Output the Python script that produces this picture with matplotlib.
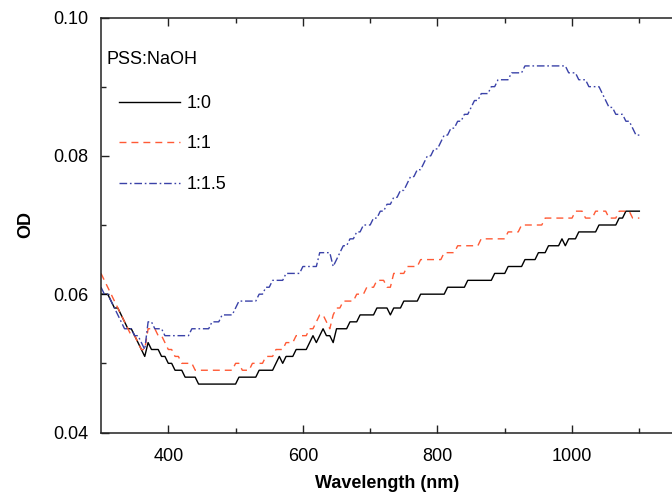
import numpy as np
import matplotlib
matplotlib.use("Agg")
import matplotlib.pyplot as plt

plt.rcParams["font.family"] = ["Liberation Sans", "DejaVu Sans"]

# sampling grid of the spectra (nm)
wavelength = np.arange(300, 1101, 5)

# PSS:NaOH 1:0
od_1_0 = [
    0.060, 0.060, 0.060, 0.059, 0.058, 0.058, 0.057, 0.056, 0.055, 0.055,
    0.054, 0.053, 0.052, 0.051, 0.053, 0.052, 0.052, 0.052, 0.051, 0.051,
    0.050, 0.050, 0.049, 0.049, 0.049, 0.048, 0.048, 0.048, 0.048, 0.047,
    0.047, 0.047, 0.047, 0.047, 0.047, 0.047, 0.047, 0.047, 0.047, 0.047,
    0.047, 0.048, 0.048, 0.048, 0.048, 0.048, 0.048, 0.049, 0.049, 0.049,
    0.049, 0.049, 0.050, 0.051, 0.050, 0.051, 0.051, 0.051, 0.052, 0.052,
    0.052, 0.052, 0.053, 0.054, 0.053, 0.054, 0.055, 0.054, 0.054, 0.053,
    0.055, 0.055, 0.055, 0.055, 0.056, 0.056, 0.056, 0.057, 0.057, 0.057,
    0.057, 0.057, 0.058, 0.058, 0.058, 0.058, 0.057, 0.058, 0.058, 0.058,
    0.059, 0.059, 0.059, 0.059, 0.059, 0.060, 0.060, 0.060, 0.060, 0.060,
    0.060, 0.060, 0.060, 0.061, 0.061, 0.061, 0.061, 0.061, 0.061, 0.062,
    0.062, 0.062, 0.062, 0.062, 0.062, 0.062, 0.062, 0.063, 0.063, 0.063,
    0.063, 0.064, 0.064, 0.064, 0.064, 0.064, 0.065, 0.065, 0.065, 0.065,
    0.066, 0.066, 0.066, 0.067, 0.067, 0.067, 0.067, 0.068, 0.067, 0.068,
    0.068, 0.068, 0.069, 0.069, 0.069, 0.069, 0.069, 0.069, 0.070, 0.070,
    0.070, 0.070, 0.070, 0.070, 0.071, 0.071, 0.072, 0.072, 0.072, 0.072,
    0.072,
]

# PSS:NaOH 1:1
od_1_1 = [
    0.063, 0.062, 0.061, 0.060, 0.059, 0.058, 0.057, 0.056, 0.055, 0.054,
    0.054, 0.053, 0.052, 0.052, 0.055, 0.055, 0.055, 0.054, 0.054, 0.053,
    0.052, 0.052, 0.051, 0.051, 0.050, 0.050, 0.050, 0.050, 0.049, 0.049,
    0.049, 0.049, 0.049, 0.049, 0.049, 0.049, 0.049, 0.049, 0.049, 0.049,
    0.050, 0.050, 0.049, 0.049, 0.049, 0.050, 0.050, 0.050, 0.050, 0.051,
    0.051, 0.051, 0.052, 0.052, 0.052, 0.053, 0.053, 0.053, 0.054, 0.054,
    0.054, 0.054, 0.055, 0.055, 0.056, 0.057, 0.057, 0.056, 0.055, 0.057,
    0.058, 0.058, 0.059, 0.059, 0.059, 0.059, 0.060, 0.060, 0.060, 0.061,
    0.061, 0.061, 0.062, 0.062, 0.062, 0.061, 0.061, 0.063, 0.063, 0.063,
    0.063, 0.064, 0.064, 0.064, 0.064, 0.065, 0.065, 0.065, 0.065, 0.065,
    0.065, 0.065, 0.066, 0.066, 0.066, 0.066, 0.067, 0.067, 0.067, 0.067,
    0.067, 0.067, 0.067, 0.068, 0.068, 0.068, 0.068, 0.068, 0.068, 0.068,
    0.068, 0.069, 0.069, 0.069, 0.069, 0.070, 0.070, 0.070, 0.070, 0.070,
    0.070, 0.070, 0.071, 0.071, 0.071, 0.071, 0.071, 0.071, 0.071, 0.071,
    0.071, 0.072, 0.072, 0.072, 0.071, 0.071, 0.071, 0.072, 0.072, 0.072,
    0.072, 0.071, 0.071, 0.071, 0.072, 0.072, 0.072, 0.072, 0.071, 0.071,
    0.071,
]

# PSS:NaOH 1:1.5
od_1_15 = [
    0.061, 0.060, 0.060, 0.059, 0.058, 0.057, 0.056, 0.055, 0.055, 0.055,
    0.054, 0.054, 0.053, 0.052, 0.056, 0.056, 0.055, 0.055, 0.055, 0.054,
    0.054, 0.054, 0.054, 0.054, 0.054, 0.054, 0.054, 0.055, 0.055, 0.055,
    0.055, 0.055, 0.055, 0.056, 0.056, 0.056, 0.057, 0.057, 0.057, 0.057,
    0.058, 0.059, 0.059, 0.059, 0.059, 0.059, 0.059, 0.060, 0.060, 0.061,
    0.061, 0.062, 0.062, 0.062, 0.062, 0.063, 0.063, 0.063, 0.063, 0.063,
    0.064, 0.064, 0.064, 0.064, 0.064, 0.066, 0.066, 0.066, 0.066, 0.064,
    0.065, 0.066, 0.067, 0.067, 0.068, 0.068, 0.069, 0.069, 0.070, 0.070,
    0.070, 0.071, 0.071, 0.072, 0.072, 0.073, 0.073, 0.074, 0.074, 0.075,
    0.075, 0.076, 0.077, 0.077, 0.078, 0.078, 0.079, 0.080, 0.080, 0.081,
    0.081, 0.082, 0.083, 0.083, 0.084, 0.084, 0.085, 0.085, 0.086, 0.086,
    0.087, 0.088, 0.088, 0.089, 0.089, 0.089, 0.090, 0.090, 0.091, 0.091,
    0.091, 0.091, 0.092, 0.092, 0.092, 0.092, 0.093, 0.093, 0.093, 0.093,
    0.093, 0.093, 0.093, 0.093, 0.093, 0.093, 0.093, 0.093, 0.093, 0.092,
    0.092, 0.092, 0.091, 0.091, 0.091, 0.090, 0.090, 0.090, 0.090, 0.089,
    0.088, 0.087, 0.087, 0.086, 0.086, 0.086, 0.085, 0.085, 0.084, 0.083,
    0.083,
]

labels = ["1:0", "1:1", "1:1.5"]
colors = ["black", "#FF5A35", "#3A42A8"]
styles = ["-", (0, (5, 3.6)), (0, (5.5, 2, 1.2, 2))]

FS = 13
W, H = 672, 496
fig = plt.figure(figsize=(W / 100, H / 100), dpi=100)
ax = fig.add_axes([101 / W, (H - 432.5) / H, 572 / W, 415 / H])

for y, lab, c, ls in zip([od_1_0, od_1_1, od_1_15], labels, colors, styles):
    ax.plot(wavelength, y, color=c, linestyle=ls, lw=1.0, label=lab)

ax.set_xlim(300, 1150)
ax.set_ylim(0.04, 0.10)
ax.set_xticks([400, 600, 800, 1000])
ax.set_xticks([500, 700, 900, 1100], minor=True)
ax.set_yticks([0.04, 0.06, 0.08, 0.10])
ax.set_yticks([0.05, 0.07, 0.09], minor=True)
ax.set_yticklabels(["0.04", "0.06", "0.08", "0.10"])
ax.tick_params(which="both", direction="in", top=True, right=False,
               labelsize=FS, width=1.0, color="#222222")
ax.tick_params(which="major", length=6)
ax.tick_params(which="minor", length=3.5)
ax.tick_params(axis="x", pad=11)
ax.tick_params(axis="y", pad=9)
ax.spines["right"].set_visible(False)
for s in ["left", "bottom", "top"]:
    ax.spines[s].set_linewidth(1.1)
    ax.spines[s].set_color("#222222")

ax.set_xlabel("Wavelength (nm)", fontsize=FS, fontweight="bold", labelpad=7)
ax.set_ylabel("OD", fontsize=FS, fontweight="bold", labelpad=14)

fig.text(107 / W, 1 - 60 / H, "PSS:NaOH", fontsize=FS, va="center", ha="left")
ax.legend(loc="upper left", bbox_to_anchor=(119 / W, 1 - 95 / H),
          bbox_transform=fig.transFigure, frameon=False, fontsize=FS,
          handlelength=3.4, handletextpad=0.35, labelspacing=1.3,
          borderpad=0, borderaxespad=0)

fig.savefig("out.png", dpi=100)
